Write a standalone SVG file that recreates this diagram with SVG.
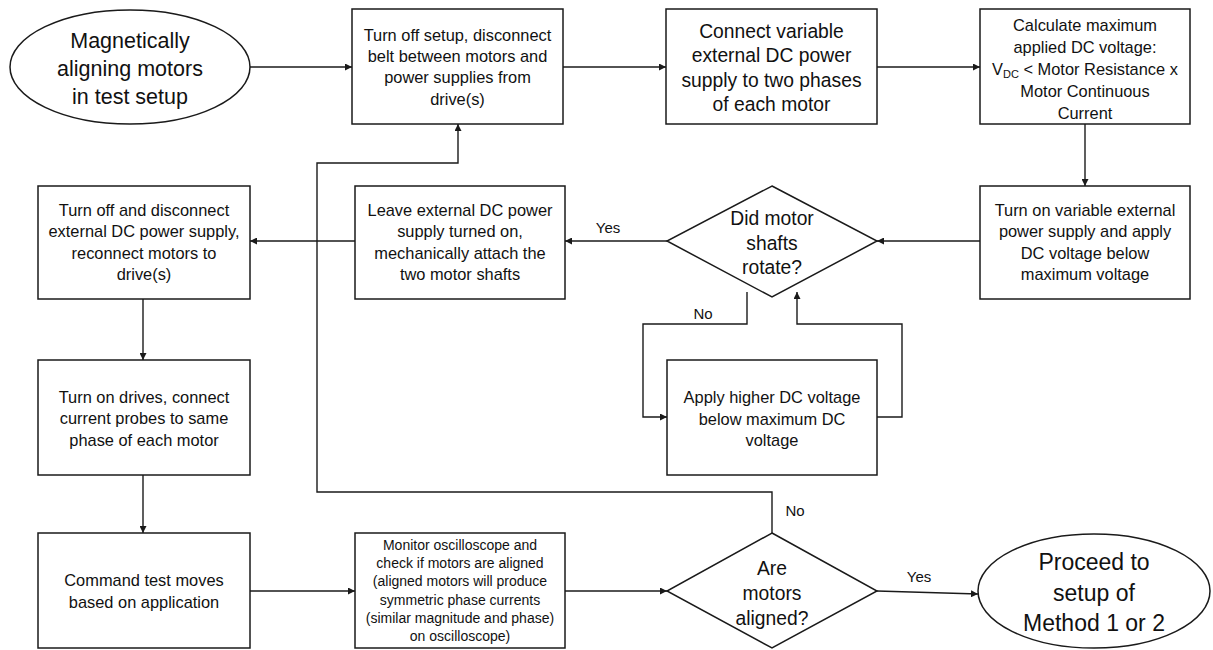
<svg xmlns="http://www.w3.org/2000/svg" width="1213" height="650" viewBox="0 0 1213 650">
  <style>
    .shape { fill: #ffffff; stroke: #1a1a1a; stroke-width: 1.5; }
    .wire { fill: none; stroke: #1a1a1a; stroke-width: 1.4; }
    text { font-family: "Liberation Sans", Arial, sans-serif; fill: #111111; text-anchor: middle; }
    .t-big { font-size: 21.5px; }
    .t-end { font-size: 23px; }
    .t-mid { font-size: 19.3px; }
    .t-norm { font-size: 16.4px; }
    .t-small { font-size: 14px; }
    .t-label { font-size: 15px; }
  </style>
  <defs>
    <marker id="arrow" viewBox="0 0 10 10" refX="10" refY="5" markerWidth="7" markerHeight="7" markerUnits="userSpaceOnUse" orient="auto">
      <path d="M0,0 L10,5 L0,10 z" fill="#1a1a1a"/>
    </marker>
  </defs>

  <rect width="1213" height="650" fill="#ffffff"/>

  <!-- connectors -->
  <g id="connectors">
    <line class="wire" x1="250" y1="67" x2="352" y2="67" marker-end="url(#arrow)"/>
    <line class="wire" x1="563" y1="67" x2="666" y2="67" marker-end="url(#arrow)"/>
    <line class="wire" x1="877" y1="67" x2="980" y2="67" marker-end="url(#arrow)"/>
    <line class="wire" x1="1085" y1="124" x2="1085" y2="186" marker-end="url(#arrow)"/>
    <line class="wire" x1="980" y1="241" x2="877" y2="241" marker-end="url(#arrow)"/>
    <line class="wire" x1="667" y1="241" x2="565" y2="241" marker-end="url(#arrow)"/>
    <line class="wire" x1="355" y1="241" x2="250" y2="241" marker-end="url(#arrow)"/>
    <line class="wire" x1="143" y1="299" x2="143" y2="360" marker-end="url(#arrow)"/>
    <line class="wire" x1="143" y1="475" x2="143" y2="533" marker-end="url(#arrow)"/>
    <line class="wire" x1="250" y1="591" x2="355" y2="591" marker-end="url(#arrow)"/>
    <line class="wire" x1="565" y1="591" x2="667" y2="591" marker-end="url(#arrow)"/>
    <line class="wire" x1="877" y1="591" x2="978" y2="594" marker-end="url(#arrow)"/>
    <!-- not aligned: loop back to the first setup step -->
    <polyline class="wire" points="772,533 772,492 317,492 317,163 458,163 458,124" marker-end="url(#arrow)"/>
    <!-- shafts did not rotate: raise the voltage -->
    <polyline class="wire" points="747,292 747,324 643,324 643,417 667,417" marker-end="url(#arrow)"/>
    <polyline class="wire" points="877,417 902,417 902,324 797,324 797,292" marker-end="url(#arrow)"/>

    <text class="t-label" x="608" y="233">Yes</text>
    <text class="t-label" x="703" y="319">No</text>
    <text class="t-label" x="795" y="516">No</text>
    <text class="t-label" x="919" y="582">Yes</text>
  </g>

  <g id="start">
    <ellipse class="shape" cx="130" cy="67" rx="120" ry="57"/>
    <text class="t-big" x="130" y="48">Magnetically</text>
    <text class="t-big" x="130" y="76">aligning motors</text>
    <text class="t-big" x="130" y="104">in test setup</text>
  </g>

  <g id="turn-off-setup">
    <rect class="shape" x="352" y="9" width="211" height="115"/>
    <text class="t-norm" x="457.5" y="40.5">Turn off setup, disconnect</text>
    <text class="t-norm" x="457.5" y="62">belt between motors and</text>
    <text class="t-norm" x="457.5" y="83">power supplies from</text>
    <text class="t-norm" x="457.5" y="104.5">drive(s)</text>
  </g>

  <g id="connect-dc-supply">
    <rect class="shape" x="666" y="9" width="211" height="115"/>
    <text class="t-mid" x="771.5" y="37.5">Connect variable</text>
    <text class="t-mid" x="771.5" y="62">external DC power</text>
    <text class="t-mid" x="771.5" y="86.5">supply to two phases</text>
    <text class="t-mid" x="771.5" y="111">of each motor</text>
  </g>

  <g id="max-voltage">
    <rect class="shape" x="980" y="9" width="210" height="115"/>
    <text class="t-norm" x="1085" y="31">Calculate maximum</text>
    <text class="t-norm" x="1085" y="53">applied DC voltage:</text>
    <text class="t-norm" x="1085" y="75">V<tspan font-size="11px" dy="3">DC</tspan><tspan dy="-3"> &lt; Motor Resistance x</tspan></text>
    <text class="t-norm" x="1085" y="97">Motor Continuous</text>
    <text class="t-norm" x="1085" y="119">Current</text>
  </g>

  <g id="apply-voltage">
    <rect class="shape" x="980" y="186" width="210" height="113"/>
    <text class="t-norm" x="1085" y="215.5">Turn on variable external</text>
    <text class="t-norm" x="1085" y="237">power supply and apply</text>
    <text class="t-norm" x="1085" y="258.5">DC voltage below</text>
    <text class="t-norm" x="1085" y="280">maximum voltage</text>
  </g>

  <g id="shafts-rotate">
    <polygon class="shape" points="772,186 877,241 772,297 667,241"/>
    <text class="t-mid" x="772" y="225">Did motor</text>
    <text class="t-mid" x="772" y="250">shafts</text>
    <text class="t-mid" x="772" y="274">rotate?</text>
  </g>

  <g id="attach-shafts">
    <rect class="shape" x="355" y="186" width="210" height="113"/>
    <text class="t-norm" x="460" y="215.5">Leave external DC power</text>
    <text class="t-norm" x="460" y="237">supply turned on,</text>
    <text class="t-norm" x="460" y="258.5">mechanically attach the</text>
    <text class="t-norm" x="460" y="280">two motor shafts</text>
  </g>

  <g id="reconnect-drives">
    <rect class="shape" x="38" y="186" width="212" height="113"/>
    <text class="t-norm" x="144" y="215.5">Turn off and disconnect</text>
    <text class="t-norm" x="144" y="237">external DC power supply,</text>
    <text class="t-norm" x="144" y="258.5">reconnect motors to</text>
    <text class="t-norm" x="144" y="280">drive(s)</text>
  </g>

  <g id="higher-voltage">
    <rect class="shape" x="667" y="360" width="210" height="115"/>
    <text class="t-norm" x="772" y="403">Apply higher DC voltage</text>
    <text class="t-norm" x="772" y="424.5">below maximum DC</text>
    <text class="t-norm" x="772" y="446">voltage</text>
  </g>

  <g id="current-probes">
    <rect class="shape" x="38" y="360" width="212" height="115"/>
    <text class="t-norm" x="144" y="402.5">Turn on drives, connect</text>
    <text class="t-norm" x="144" y="424">current probes to same</text>
    <text class="t-norm" x="144" y="445.5">phase of each motor</text>
  </g>

  <g id="test-moves">
    <rect class="shape" x="38" y="533" width="212" height="115"/>
    <text class="t-norm" x="144" y="586">Command test moves</text>
    <text class="t-norm" x="144" y="607.5">based on application</text>
  </g>

  <g id="monitor-scope">
    <rect class="shape" x="355" y="533" width="210" height="115"/>
    <text class="t-small" x="460" y="549.7">Monitor oscilloscope and</text>
    <text class="t-small" x="460" y="568">check if motors are aligned</text>
    <text class="t-small" x="460" y="586.3">(aligned motors will produce</text>
    <text class="t-small" x="460" y="604.7">symmetric phase currents</text>
    <text class="t-small" x="460" y="623">(similar magnitude and phase)</text>
    <text class="t-small" x="460" y="641.3">on oscilloscope)</text>
  </g>

  <g id="motors-aligned">
    <polygon class="shape" points="772,533 877,591 772,648 667,591"/>
    <text class="t-mid" x="772" y="575">Are</text>
    <text class="t-mid" x="772" y="600">motors</text>
    <text class="t-mid" x="772" y="625">aligned?</text>
  </g>

  <g id="finish">
    <ellipse class="shape" cx="1094" cy="591" rx="116" ry="57"/>
    <text class="t-end" x="1094" y="570">Proceed to</text>
    <text class="t-end" x="1094" y="600.5">setup of</text>
    <text class="t-end" x="1094" y="631">Method 1 or 2</text>
  </g>
</svg>
